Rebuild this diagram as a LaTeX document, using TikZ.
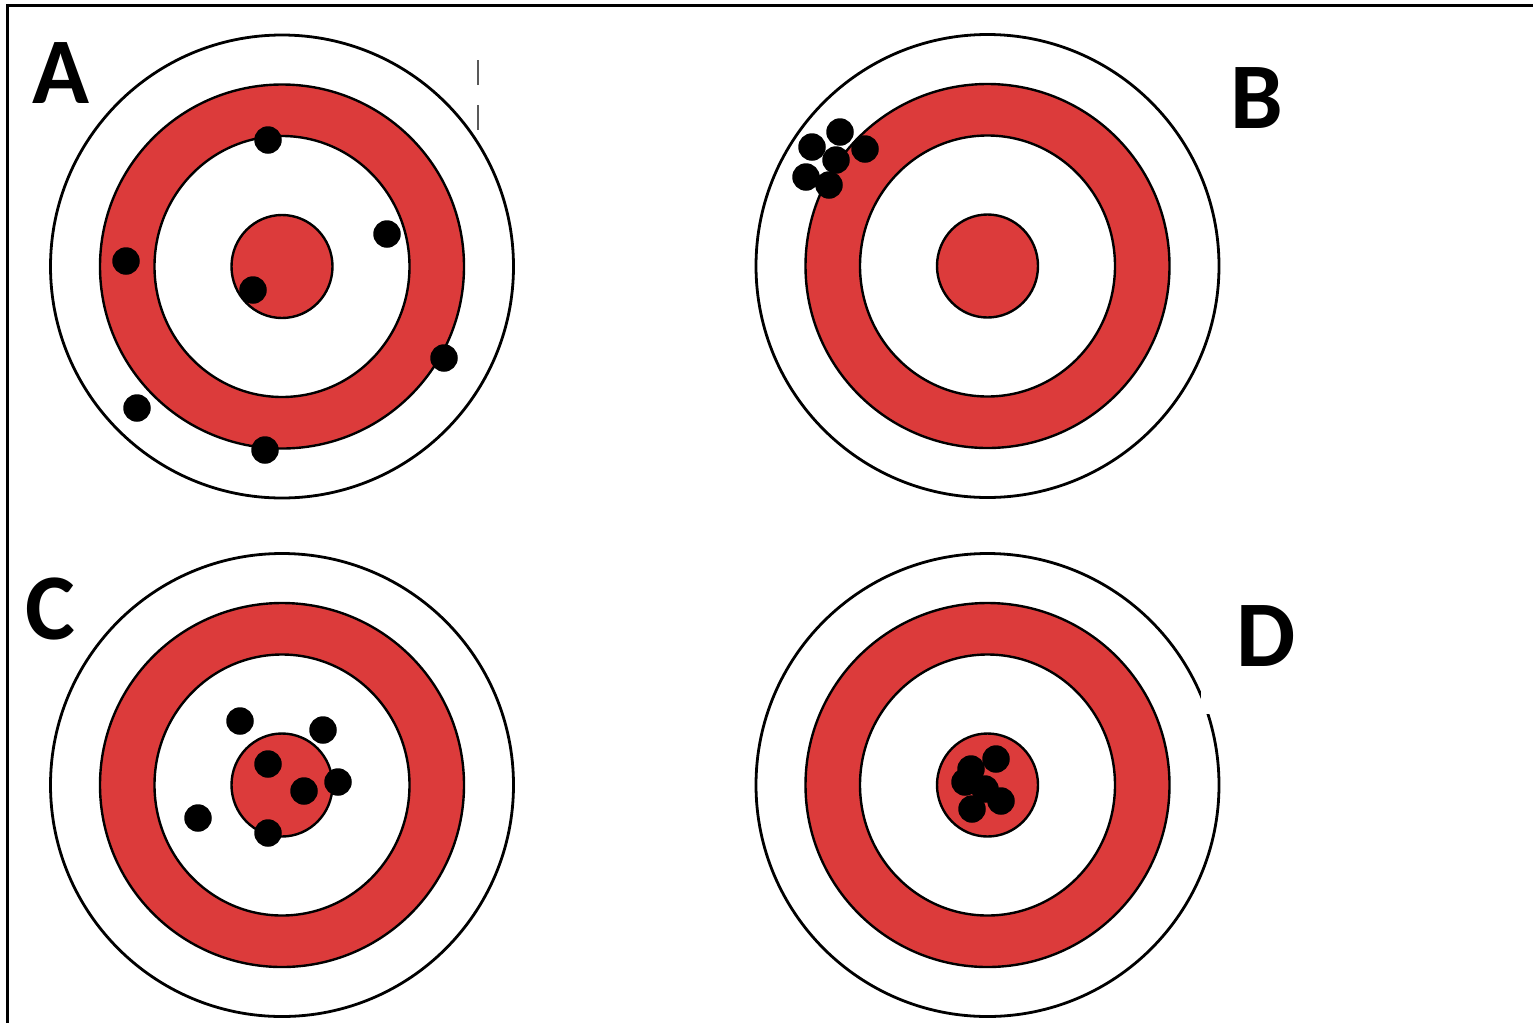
\documentclass[tikz,border=0pt]{standalone}
\usepackage{fontspec}
\setmainfont{Carlito}
\definecolor{targetred}{RGB}{220,59,59}
\begin{document}
\begin{tikzpicture}[x=1pt,y=-1pt,
  outerring/.style={draw=black,line width=2.8pt,fill=white},
  redring/.style={draw=black,line width=2.4pt,fill=targetred},
  whitering/.style={draw=black,line width=2.4pt,fill=white},
  bull/.style={draw=black,line width=2.4pt,fill=targetred},
  hole/.style={circle,fill=black,inner sep=0pt,minimum size=27.5pt},
  letter/.style={anchor=base west,inner sep=0pt,font=\fontsize{94}{94}\selectfont\bfseries},
  frameline/.style={draw=black,line width=3pt}]
\useasboundingbox (0,0) rectangle (1533,1023);
\fill[white] (0,0) rectangle (1533,1023);
% frame
\coordinate (ftl) at (7,5.5);
\coordinate (ftr) at (1533,5.5);
\coordinate (fbl) at (7,1023);
\draw[frameline] (ftr) -- (ftl) -- (fbl);
% target centres
\coordinate (cA) at (282,266.5);
\coordinate (cB) at (987.5,266);
\coordinate (cC) at (282,785);
\coordinate (cD) at (987.5,785);
\foreach \c in {cA,cB,cC,cD}{
  \draw[outerring] (\c) circle[radius=231.5];
  \draw[redring] (\c) circle[radius=182];
  \draw[whitering] (\c) ellipse[x radius=127.5,y radius=130.5];
  \draw[bull] (\c) ellipse[x radius=50.5,y radius=51.5];
}
% label mask over D outer circle
\fill[white] (1201,600) rectangle (1300,714);
% gray fragments next to A
\coordinate (g1a) at (478,60); \coordinate (g1b) at (478,85);
\coordinate (g2a) at (478,105); \coordinate (g2b) at (478,130);
\draw[gray!70!black,line width=1.3pt] (g1a) -- (g1b) (g2a) -- (g2b);
% holes A
\node[hole] (a1) at (268,140) {};
\node[hole] (a2) at (387,234) {};
\node[hole] (a3) at (126,261) {};
\node[hole] (a4) at (253,290) {};
\node[hole] (a5) at (444,358) {};
\node[hole] (a6) at (137,408) {};
\node[hole] (a7) at (265,450) {};
% holes B
\node[hole] (b1) at (840,132) {};
\node[hole] (b2) at (812,147) {};
\node[hole] (b3) at (865,149) {};
\node[hole] (b4) at (836,160) {};
\node[hole] (b5) at (806,177) {};
\node[hole] (b6) at (829,185) {};
% holes C
\node[hole] (c1) at (240,721) {};
\node[hole] (c2) at (323,730) {};
\node[hole] (c3) at (268,764) {};
\node[hole] (c4) at (338,782) {};
\node[hole] (c5) at (304,791) {};
\node[hole] (c6) at (198,818) {};
\node[hole] (c7) at (268,833) {};
% holes D
\node[hole] (d1) at (996,759) {};
\node[hole] (d2) at (971,769) {};
\node[hole] (d3) at (965,782) {};
\node[hole] (d4) at (985,789) {};
\node[hole] (d5) at (1001,801) {};
\node[hole] (d6) at (972,809) {};
% labels
\node[letter] (lA) at (32,103) {A};
\node[letter] (lB) at (1230,128) {B};
\node[letter] (lC) at (25,639) {C};
\node[letter] (lD) at (1236,666) {D};
\end{tikzpicture}
\end{document}
